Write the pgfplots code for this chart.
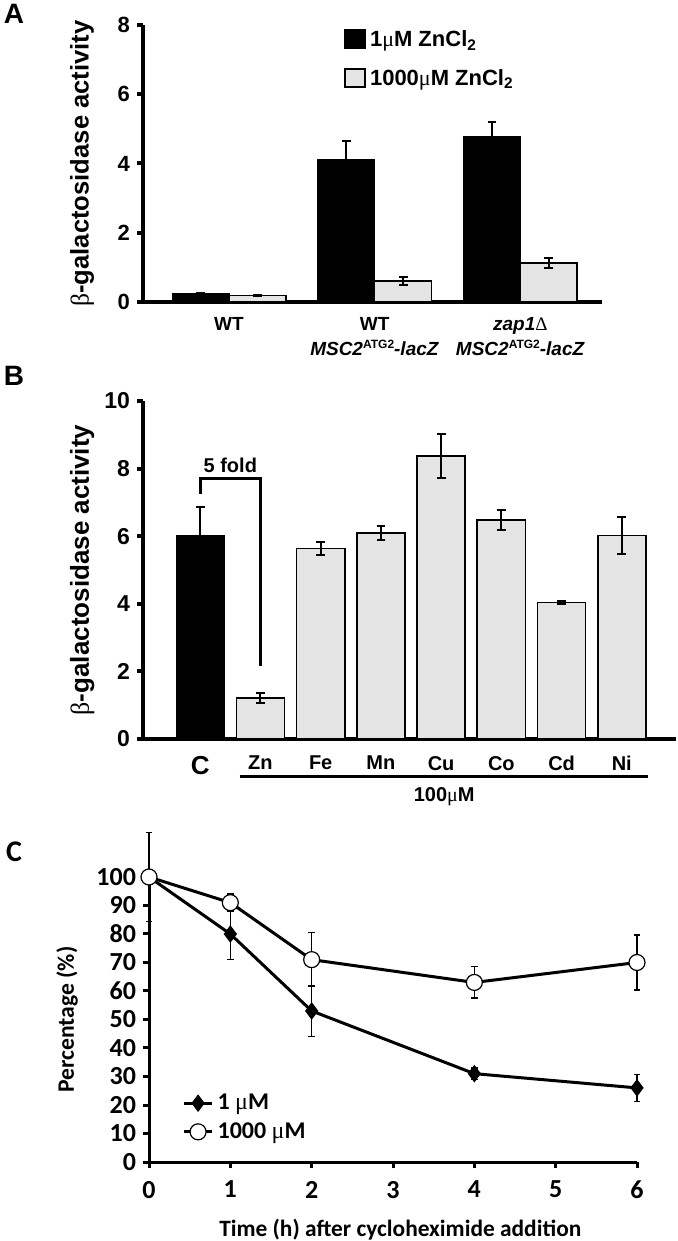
\documentclass[border=0pt]{standalone}
\usepackage{fontspec}
\setmainfont{Liberation Sans}
\newfontfamily\symb{Liberation Serif}
\newfontfamily\carlito{Carlito}
\usepackage{pgfplots}
\pgfplotsset{compat=1.18}
\definecolor{lgray}{HTML}{E4E4E4}
\newcommand\fs[1]{\fontsize{#1}{#1}\selectfont}
\newcommand\supr[1]{\raisebox{3.2pt}{\fontsize{6}{6}\selectfont #1}}
\begin{document}
\begin{tikzpicture}
\path[use as bounding box] (0,0) rectangle (339pt,620.5pt);
\node[font=\bfseries\fs{14}] at (7pt,613.5pt) {A};
\node[font=\bfseries\fs{14}] at (7pt,432.5pt) {B};
\node[font=\carlito\bfseries\fs{15}] at (7pt,194.5pt) {C};

% ---------------- Panel A
\begin{axis}[
  at={(71.5pt,469.5pt)}, anchor=south west,
  scale only axis, width=229.5pt, height=138.5pt,
  xmin=-0.59, xmax=2.56, ymin=0, ymax=8,
  axis lines*=left,
  axis line style={line width=2pt},
  tick align=outside, major tick length=3pt,
  ytick={0,2,4,6,8},
  ytick style={line width=2pt, black},
  xtick={0,1,2}, xtick style={draw=none},
  xticklabels={{WT},{WT\\\textit{MSC2}\supr{ATG2}\textit{-lacZ}},{\textit{zap1}{\symb\mdseries Δ}\\\textit{MSC2}\supr{ATG2}\textit{-lacZ}}},
  xticklabel style={align=center, font=\bfseries\fontsize{9.5}{12.5}\selectfont, anchor=north, yshift=-1pt},
  yticklabel style={font=\bfseries\fs{11}},
  /pgf/number format/assume math mode=true,
  ylabel={{\symb\mdseries β}-galactosidase activity},
  ylabel style={at={(axis description cs:-0.133,0.5)}, anchor=center, font=\bfseries\fs{12.8}},
  clip=false,
  legend style={draw=none, fill=none, at={(0.438,0.995)}, anchor=north west, font=\bfseries\fs{11}, row sep=6pt, inner sep=0pt},
  legend cell align=left,
  legend image code/.code={\draw[#1, line width=0.8pt] (0pt,-4pt) rectangle (10pt,5pt);},
]
\addplot[ybar, bar width=0.39, bar shift=0pt, fill=black, draw=black,
  error bars/.cd, y dir=plus, y explicit,
  error bar style={line width=1pt, black}, error mark options={rotate=90, line width=1pt, mark size=2.2pt, black}]
 coordinates {(-0.195,0.24) +- (0,0.03) (0.805,4.12) +- (0,0.53) (1.805,4.79) +- (0,0.41)};
\addlegendentry{1{\symb\mdseries μ}M ZnCl\textsubscript{2}}
\addplot[ybar, bar width=0.39, bar shift=0pt, fill=lgray, draw=black, line width=0.8pt,
  error bars/.cd, y dir=both, y explicit,
  error bar style={line width=1pt, black}, error mark options={rotate=90, line width=1pt, mark size=2.2pt, black}]
 coordinates {(0.195,0.19) +- (0,0.02) (1.195,0.60) +- (0,0.12) (2.195,1.13) +- (0,0.15)};
\addlegendentry{1000{\symb\mdseries μ}M ZnCl\textsubscript{2}}
\end{axis}

% ---------------- Panel B
\begin{axis}[
  at={(71.5pt,251pt)}, anchor=south west,
  scale only axis, width=266.5pt, height=169pt,
  xmin=-0.95, xmax=7.9, ymin=0, ymax=10,
  axis lines*=left,
  axis line style={line width=2pt},
  tick align=outside, major tick length=3pt,
  ytick={0,2,4,6,8,10},
  ytick style={line width=2pt, black},
  xtick={0,1,2,3,4,5,6,7}, xtick style={draw=none},
  xticklabels={{\fs{13}C},Zn,Fe,Mn,Cu,Co,Cd,Ni},
  xticklabel style={font=\bfseries\fs{10}, anchor=north, yshift=-2pt},
  yticklabel style={font=\bfseries\fs{11.5}},
  /pgf/number format/assume math mode=true,
  ylabel={{\symb\mdseries β}-galactosidase activity},
  ylabel style={at={(axis description cs:-0.114,0.5)}, anchor=center, font=\bfseries\fs{13}},
  clip=false,
]
\addplot[ybar, bar width=0.8, bar shift=0pt, fill=black, draw=black,
  error bars/.cd, y dir=plus, y explicit,
  error bar style={line width=1pt, black}, error mark options={rotate=90, line width=1pt, mark size=2.2pt, black}]
 coordinates {(0,6.03) +- (0,0.82)};
\addplot[ybar, bar width=0.8, bar shift=0pt, fill=lgray, draw=black, line width=0.8pt,
  error bars/.cd, y dir=both, y explicit,
  error bar style={line width=1pt, black}, error mark options={rotate=90, line width=1pt, mark size=2.2pt, black}]
 coordinates {(1,1.21) +- (0,0.15) (2,5.64) +- (0,0.2) (3,6.10) +- (0,0.2) (4,8.37) +- (0,0.65)
   (5,6.48) +- (0,0.3) (6,4.04) +- (0,0.04) (7,6.02) +- (0,0.54)};
\draw[line width=1.5pt] (axis cs:0,7.26) -- (axis cs:0,7.70) -- (axis cs:1,7.70) -- (axis cs:1,2.15);
\node[font=\bfseries\fs{10}] at (axis cs:0.5,8.1) {5 fold};
\draw[line width=1.5pt] (axis cs:0.66,-1.12) -- (axis cs:7.44,-1.12);
\node[font=\bfseries\fs{10}] at (axis cs:4.05,-1.72) {100{\symb\mdseries μ}M};
\end{axis}

% ---------------- Panel C
\begin{axis}[
  at={(74.5pt,39.5pt)}, anchor=south west,
  scale only axis, width=244pt, height=142.5pt,
  xmin=0, xmax=6, ymin=0, ymax=100,
  axis lines*=left,
  axis line style={line width=1.5pt},
  tick align=outside, major tick length=3pt,
  xtick={0,1,2,3,4,5,6},
  ytick={0,10,20,30,40,50,60,70,80,90,100},
  tick style={line width=1.5pt, black},
  ticklabel style={font=\carlito\bfseries\fs{13}},
  xticklabel style={yshift=-3pt},
  /pgf/number format/assume math mode=true,
  xlabel={Time (h) after cycloheximide addition},
  ylabel={Percentage (\%)},
  xlabel style={at={(axis description cs:0.515,-0.239)}, anchor=center, font=\carlito\bfseries\fs{11.7}},
  ylabel style={at={(axis description cs:-0.168,0.5)}, anchor=center, font=\carlito\bfseries\fs{11.8}},
  clip=false,
  legend style={draw=none, fill=none, at={(0.068,0.156)}, anchor=west, font=\carlito\bfseries\fs{12}, row sep=1pt, inner sep=0pt},
  legend cell align=left,
  legend image code/.code={\draw[mark repeat=2, mark phase=2, #1] plot coordinates {(0pt,0pt) (7pt,0pt) (14pt,0pt)};},
]
\addplot[black, line width=1.5pt, mark=diamond*, mark size=4pt, mark options={fill=black, line width=0.5pt},
  error bars/.cd, y dir=both, y explicit,
  error bar style={line width=0.7pt, black}, error mark options={rotate=90, line width=0.7pt, mark size=1.6pt, black}]
 coordinates {(0,100) +- (0,0) (1,80) +- (0,9) (2,53) +- (0,9) (4,31) +- (0,2) (6,26) +- (0,4.7)};
\addlegendentry{1 {\symb\mdseries μ}M}
\addplot[black, line width=1.5pt, mark=*, mark size=4pt, mark options={fill=white, line width=0.6pt},
  error bars/.cd, y dir=both, y explicit,
  error bar style={line width=0.7pt, black}, error mark options={rotate=90, line width=0.7pt, mark size=1.6pt, black}]
 coordinates {(0,100) +- (0,15.7) (1,91) +- (0,3) (2,71) +- (0,9.5) (4,63) +- (0,5.5) (6,70) +- (0,9.6)};
\addlegendentry{1000 {\symb\mdseries μ}M}
\end{axis}
\end{tikzpicture}
\end{document}
